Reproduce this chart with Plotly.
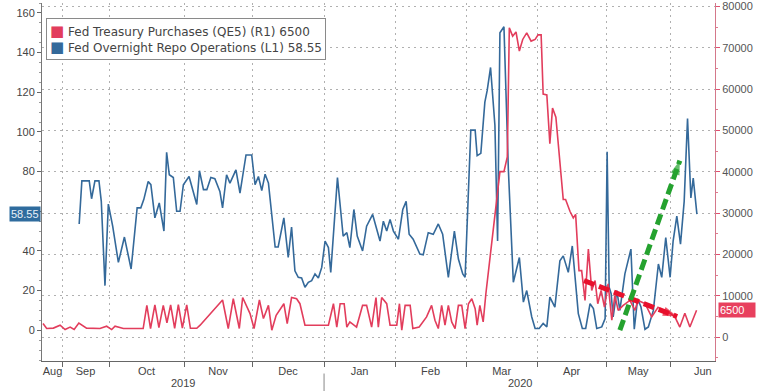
import plotly.graph_objects as go

# ---------------- data ----------------
# x = trading-day index along the axis (0 = start of chart, early Aug 2019)
repo_x = [10.8, 11.6, 13.8, 14.5, 15.5, 16.7, 17.4, 18.5, 19.5, 20.8, 22.5, 24.3, 26.3, 28.1, 29.2,
          30.1, 31.4, 32.2, 33.4, 34.7, 36.1, 36.9, 37.7, 38.9, 39.9, 40.9, 41.9, 43.6, 45.9, 46.7,
          47.9, 48.9, 50.1, 51.3, 52.8, 53.6, 54.8, 55.8, 57.6, 58.8, 60.6, 62.3, 63.3, 64.3, 65.3,
          66.3, 67.3, 69.3, 70.2, 71.9, 73.2, 74.2, 75.2, 76.2, 77.2, 78.2, 79.2, 80.2, 81.2, 82.2,
          83.2, 84.2, 85.2, 85.9, 87.9, 89.6, 90.7, 91.6, 92.8, 93.8, 95.4, 96.6, 98.4, 99.4, 100.6,
          101.6, 102.6, 103.6, 104.6, 106.1, 107.4, 108.4, 109.3, 110.5, 112.5, 113.5, 115.0, 116.5,
          118.0, 119.3, 121.0, 122.8, 124.0, 125.3, 126.0, 127.7, 129.0, 129.6, 130.7, 131.9, 132.6,
          133.6, 134.9, 135.7, 136.4, 137.6, 138.9, 140.4, 142.2, 143.4, 144.4, 145.9, 146.9, 148.1,
          149.3, 150.4, 151.3, 152.8, 154.3, 155.3, 156.8, 158.0, 159.0, 159.8, 161.0, 162.0, 163.3,
          164.3, 165.3, 166.8, 167.8, 168.4, 169.0, 169.6, 170.2, 171.3, 172.2, 173.7, 175.5, 176.5,
          177.5, 178.5, 179.7, 180.7, 182.2, 183.7, 184.7, 185.9, 187.2, 188.1, 189.2, 190.3, 191.4,
          192.4, 193.4, 194.1, 195.2]
repo_vals = [53.6, 75.3, 75.3, 66.3, 75.3, 75.3, 65.0, 22.5, 63.6, 52.5, 34.2, 47.0, 30.9, 61.7, 61.7,
             66.0, 75.0, 73.4, 56.7, 64.2, 50.0, 89.7, 78.4, 77.0, 60.0, 60.0, 73.4, 77.5, 63.4, 80.4,
             70.9, 70.9, 77.0, 76.4, 70.0, 61.7, 78.4, 74.2, 80.9, 69.2, 88.4, 88.4, 73.4, 77.5, 70.4,
             78.7, 74.2, 42.0, 42.0, 56.7, 36.7, 52.0, 30.0, 26.7, 26.4, 21.7, 24.2, 25.0, 28.4, 26.4,
             31.7, 45.0, 41.7, 29.2, 77.0, 47.5, 49.2, 41.7, 60.9, 47.5, 40.0, 52.5, 58.4, 52.5, 45.0,
             55.0, 50.0, 55.9, 50.0, 45.9, 60.9, 65.0, 48.4, 45.9, 38.4, 38.0, 49.2, 48.4,
             53.6, 48.4, 26.7, 50.0, 35.9, 28.4, 26.7, 100.9, 100.9, 88.0, 89.2, 115.0, 120.9,
             132.5, 103.4, 45.0, 150.0, 153.0, 81.7, 24.2, 36.7, 14.2, 20.0, 6.7, 0.9, 0.9,
             3.4, 1.7, 16.7, 11.7, 35.0, 37.5, 29.2, 42.5, 25.0, 8.4, 0.9, 0.9, 13.4,
             10.9, 0.9, 1.7, 5.9, 90.0, 21.7, 18.4, 6.7, 20.0, 10.0, 28.4, 40.9, 0.5,
             15.9, 11.7, 0.5, 1.7, 10.0, 33.4, 26.7, 46.7, 26.7, 45.0, 57.5, 43.4, 65.0,
             106.7, 66.7, 76.7, 58.55]

qe_x = [0.0, 1.1, 3.1, 5.1, 6.6, 8.1, 9.3, 10.7, 13.0, 17.0, 19.0, 20.5, 21.5, 24.0, 29.9,
        31.0, 32.1, 33.4, 34.6, 35.9, 37.0, 38.1, 39.3, 40.4, 41.6, 42.9, 44.0, 45.9, 46.9,
        53.6, 55.3, 56.8, 58.6, 59.6, 61.8, 63.0, 64.6, 65.8, 67.3, 68.3, 69.6, 71.9, 72.9, 74.2,
        75.7, 76.7, 78.2, 85.2, 86.7, 87.7, 88.7, 89.9, 90.7, 91.6, 93.6, 95.4, 96.6, 98.1, 99.4,
        100.1, 101.1, 102.6, 103.6, 105.6, 106.4, 107.1, 108.1, 109.6, 110.4, 112.3, 114.5, 116.0,
        117.0, 118.0, 119.0, 120.0, 121.0, 122.0, 123.0, 124.0, 125.0, 126.0, 127.0, 128.0, 129.0,
        129.6, 130.4, 131.4, 132.2, 134.9, 136.4, 137.6, 138.6, 139.2, 140.2, 141.2, 142.2, 143.2,
        144.4, 145.7, 146.9, 147.8, 148.7, 149.3, 150.4, 151.3, 152.1, 153.1, 155.3, 156.0, 157.3,
        158.3, 159.0, 160.0, 160.8, 161.8, 162.8, 163.8, 164.8, 165.6, 166.6, 167.6, 168.7, 169.8,
        170.7, 171.7, 173.2, 175.2, 176.7, 177.6, 179.7, 181.7, 183.6, 185.1, 187.2, 188.7, 190.1,
        191.6, 193.1, 195.1]
qe_vals = [3300, 2100, 2200, 2900, 1850, 2450, 1850, 3400, 2200, 2100, 2650, 1850, 2650, 2100, 2100,
           7700, 2100, 7800, 2300, 7700, 3500, 7800, 2150, 7900, 2200, 7800, 2150, 2150, 2900,
           9000, 2100, 9300, 2100, 9600, 5700, 2100, 9000, 4500, 7700, 1700, 5300, 8100, 3300, 9600,
           9300, 8100, 2900, 2900, 8100, 2450, 8100, 8100, 2450, 3700, 2450, 7700, 7700, 2450, 9600,
           2450, 9600, 8100, 2900, 2900, 8100, 1700, 7700, 7700, 2100, 2450, 4900, 7700,
           4100, 2100, 7700, 2900, 7700, 3700, 2100, 7700, 7700, 2100, 8100, 9300, 6900,
           2900, 7700, 3700, 10500, 30450, 40050, 40050, 43600, 74800, 72800, 73800, 69200, 72000,
           73600, 71600, 72000, 73100, 73100, 58800, 58600, 46800, 55400, 53200, 33300, 33300, 30450,
           28850, 29700, 16100, 16100, 8900, 21300, 11300, 13700, 8100, 11300, 7300, 12900, 4100,
           10100, 6500, 7700, 8900, 6500, 8900, 8150, 4900, 7200, 6500, 5800, 4800, 2450,
           5800, 2450, 6500]

month_labels = ["Aug", "Sep", "Oct", "Nov", "Dec", "Jan", "Feb", "Mar", "Apr", "May", "Jun"]
month_edges = [0, 5.7, 19.7, 42.1, 62.4, 83.9, 105.1, 126.3, 147.5, 168.1, 187.2, 206.7]
year_labels = ["2019", "2020"]
x_range = [-0.3, 200.6]

left_ticks = [0, 20, 40, 60, 80, 100, 120, 140, 160]
right_ticks = [0, 10000, 20000, 30000, 40000, 50000, 60000, 70000, 80000]

series_names = ["Fed Treasury Purchases (QE5) (R1) 6500",
                "Fed Overnight Repo Operations (L1) 58.55"]

# hand-drawn annotation arrows (in right-axis units)
green_arrow_x = [172.2, 190.1]
green_arrow_y = [1700, 42700]
red_arrow_x = [161.5, 189.3]
red_arrow_y = [13700, 5000]

# ---------------- style ----------------
BLUE = "#34699a"
RED = "#e23d5c"
FONT = "Liberation Sans, Arial, sans-serif"
GRID = "#b0b0b0"
GDASH = "2px,4px"

mids = [(month_edges[i] + month_edges[i + 1]) / 2 for i in range(len(month_labels))]
year_split = month_edges[5]
year_mids = [(x_range[0] + year_split) / 2, (year_split + x_range[1]) / 2]
left_text = ["" if v == 60 else str(v) for v in left_ticks]

fig = go.Figure()

fig.add_trace(go.Scatter(x=repo_x, y=repo_vals, mode="lines", yaxis="y",
                         line=dict(color=BLUE, width=1.6), name=series_names[1]))
fig.add_trace(go.Scatter(x=qe_x, y=qe_vals, mode="lines", yaxis="y2",
                         line=dict(color=RED, width=1.6), name=series_names[0]))

# arrows
for ax_, ay_, col in [(red_arrow_x, red_arrow_y, "#e8102c"), (green_arrow_x, green_arrow_y, "#25a22f")]:
    fig.add_trace(go.Scatter(x=ax_, y=ay_, yaxis="y2", mode="lines",
                             line=dict(color=col, width=5, dash="11px,5px"),
                             hoverinfo="skip"))
    fig.add_trace(go.Scatter(x=ax_, y=ay_, yaxis="y2", mode="markers",
                             marker=dict(symbol="arrow", angleref="previous", size=[0, 15],
                                         color=col, line=dict(width=0)),
                             hoverinfo="skip"))

fig.update_layout(
    width=768, height=391,
    margin=dict(l=42, r=53, t=0, b=30),
    paper_bgcolor="white", plot_bgcolor="white",
    font=dict(family=FONT, size=11, color="#444"),
    showlegend=False,
    xaxis=dict(range=x_range, tickmode="array", tickvals=mids, ticktext=month_labels,
               ticks="", showgrid=False, zeroline=False,
               showline=True, linecolor="#666", linewidth=1,
               tickfont=dict(size=11, color="#444"),
               minor=dict(tickmode="array", tickvals=month_edges[1:-1], ticks="outside",
                          ticklen=5, tickcolor="#666", showgrid=True, gridcolor=GRID,
                          griddash=GDASH, gridwidth=1)),
    yaxis=dict(range=[-15.5, 165], tickmode="array", tickvals=left_ticks, ticktext=left_text,
               showgrid=False, zeroline=False, ticklabeloverflow="allow",
               showline=True, linecolor="#777", linewidth=1, ticks="outside", ticklen=4,
               tickcolor="#666", tickfont=dict(size=11, color="#444"),
               minor=dict(dtick=5, ticks="outside", ticklen=2, tickcolor="#999")),
    yaxis2=dict(range=[-5755, 80815], tickvals=right_ticks, tickformat="d",
                overlaying="y", side="right", ticklabeloverflow="allow",
                showgrid=True, gridcolor=GRID, griddash=GDASH, gridwidth=1, zeroline=False,
                showline=True, linecolor="#d4788a", linewidth=1, ticks="outside", ticklen=4,
                tickcolor="#e05070", tickfont=dict(size=11, color="#555"),
                minor=dict(dtick=5000, ticks="outside", ticklen=2, tickcolor="#e07a90")),
)

# legend box (as annotation for tight row spacing)
legend_text = (f"<span style='color:{RED};font-size:15px'>■</span> {series_names[0]}<br>"
               f"<span style='color:{BLUE};font-size:15px'>■</span> {series_names[1]}")
fig.add_annotation(x=0.006, xref="paper", xanchor="left", y=1 - 15 / 361, yref="paper",
                   yanchor="top", text=legend_text, align="left", showarrow=False,
                   bgcolor="white", bordercolor="#8a8a8a", borderwidth=1, borderpad=3,
                   font=dict(size=12, color="#444", family="DejaVu Sans, sans-serif"))

# value tags
fig.add_annotation(x=0, xref="paper", xanchor="right", xshift=-1, y=repo_vals[-1], yref="y",
                   text="58.55", showarrow=False, bgcolor="#2f6c9e",
                   font=dict(color="#e8f0f8", size=11), borderpad=1)
fig.add_annotation(x=1, xref="paper", xanchor="left", xshift=3, y=qe_vals[-1], yref="y2",
                   text="6500&nbsp;&nbsp;&nbsp;", showarrow=False, bgcolor="#e8405e",
                   font=dict(color="white", size=11), borderpad=1)

# year labels and separator
for yl, xm in zip(year_labels, year_mids):
    fig.add_annotation(x=xm, xref="x", y=0, yref="paper", yshift=-22, yanchor="middle",
                       text=yl, showarrow=False, font=dict(size=11, color="#444"))
fig.add_shape(type="line", xref="x", x0=year_split, x1=year_split, yref="paper",
              y0=-0.035, y1=-0.085, line=dict(color="#888", width=1))

fig.write_html("out.html", config={"displayModeBar": False},
               post_script="document.body.style.margin='0';document.body.style.overflow='hidden';")
